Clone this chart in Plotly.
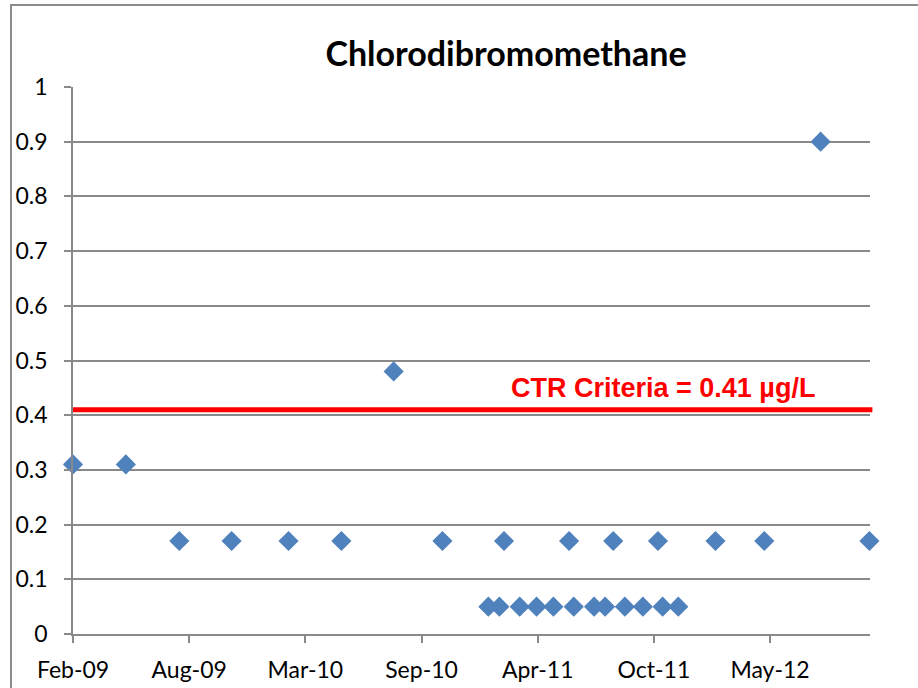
import plotly.graph_objects as go

dates = [
    "2009-02-01", "2009-05-03", "2009-08-03", "2009-11-01", "2010-02-07",
    "2010-05-09", "2010-08-07", "2010-10-30", "2011-01-17", "2011-02-05",
    "2011-02-13", "2011-03-12", "2011-04-10", "2011-05-09", "2011-06-05",
    "2011-06-13", "2011-07-18", "2011-08-06", "2011-08-20", "2011-09-09",
    "2011-10-10", "2011-11-05", "2011-11-13", "2011-12-10", "2012-02-12",
    "2012-05-06", "2012-08-11", "2012-11-03",
]
values = [
    0.31, 0.31, 0.17, 0.17, 0.17,
    0.17, 0.48, 0.17, 0.05, 0.05,
    0.17, 0.05, 0.05, 0.05, 0.17,
    0.05, 0.05, 0.05, 0.17, 0.05,
    0.05, 0.17, 0.05, 0.05, 0.17,
    0.17, 0.90, 0.17,
]
tick_dates = ["2009-02-01", "2009-08-20", "2010-03-08", "2010-09-24",
              "2011-04-12", "2011-10-29", "2012-05-16"]
tick_labels = ["Feb-09", "Aug-09", "Mar-10", "Sep-10", "Apr-11", "Oct-11", "May-12"]
criteria = 0.41
criteria_label = "CTR Criteria = 0.41 µg/L"
title = "Chlorodibromomethane"

W, H = 918, 688
L, R, T, B = 73, 48, 87, 54
pw, ph = W - L - R, H - T - B

fig = go.Figure()
fig.add_trace(go.Scatter(
    x=dates, y=values, mode="markers",
    marker=dict(symbol="diamond", size=15.5, color="#4F81BD",
                line=dict(width=0)),
    showlegend=False, cliponaxis=False,
))

grid = "#898989"
fig.update_layout(
    width=W, height=H,
    margin=dict(l=L, r=R, t=T, b=B, pad=0, autoexpand=False),
    paper_bgcolor="white", plot_bgcolor="white",
    title=dict(text="<b>" + title + "</b>", xref="container", yref="container",
               x=506 / W, y=1 - 54 / H, xanchor="center", yanchor="middle",
               font=dict(family="Lato", size=34, color="black")),
    xaxis=dict(type="date", range=["2009-02-01", "2012-11-04"],
               tickvals=tick_dates, ticktext=tick_labels,
               showgrid=False, zeroline=False, automargin=False,
               showline=True, linecolor=grid, linewidth=1.5,
               ticks="outside", ticklen=7, tickcolor=grid, tickwidth=1.5,
               tickfont=dict(family="Lato", size=23, color="black"),
               ticklabelstandoff=8),
    yaxis=dict(range=[0, 1], tickmode="linear", tick0=0, dtick=0.1,
               showgrid=True, gridcolor=grid, gridwidth=1.5,
               zeroline=False, automargin=False,
               showline=True, linecolor=grid, linewidth=1.5,
               ticks="outside", ticklen=7, tickcolor=grid, tickwidth=1.5,
               tickfont=dict(family="Lato", size=23, color="black"),
               ticklabelstandoff=12),
    shapes=[
        dict(type="line", xref="paper", yref="y", x0=0, x1=1.003,
             y0=criteria, y1=criteria,
             line=dict(color="#FF0000", width=5)),
        dict(type="rect", xref="paper", yref="paper",
             x0=(11 - L) / pw, x1=(930 - L) / pw,
             y0=(H - B - 700) / ph, y1=(H - B - 5) / ph,
             line=dict(color="#8c8c8c", width=2), fillcolor="rgba(0,0,0,0)",
             layer="below"),
    ],
    annotations=[
        dict(text="<b>" + criteria_label + "</b>", xref="paper", yref="paper",
             x=(663 - L) / pw, y=(H - B - 388) / ph, xanchor="center",
             yanchor="middle", showarrow=False,
             font=dict(family="Liberation Sans", size=27, color="#FF0000")),
    ],
)

fig.write_html(
    "out.html",
    config={"displayModeBar": False},
    post_script="document.body.style.margin='0';document.body.style.overflow='hidden';",
)
